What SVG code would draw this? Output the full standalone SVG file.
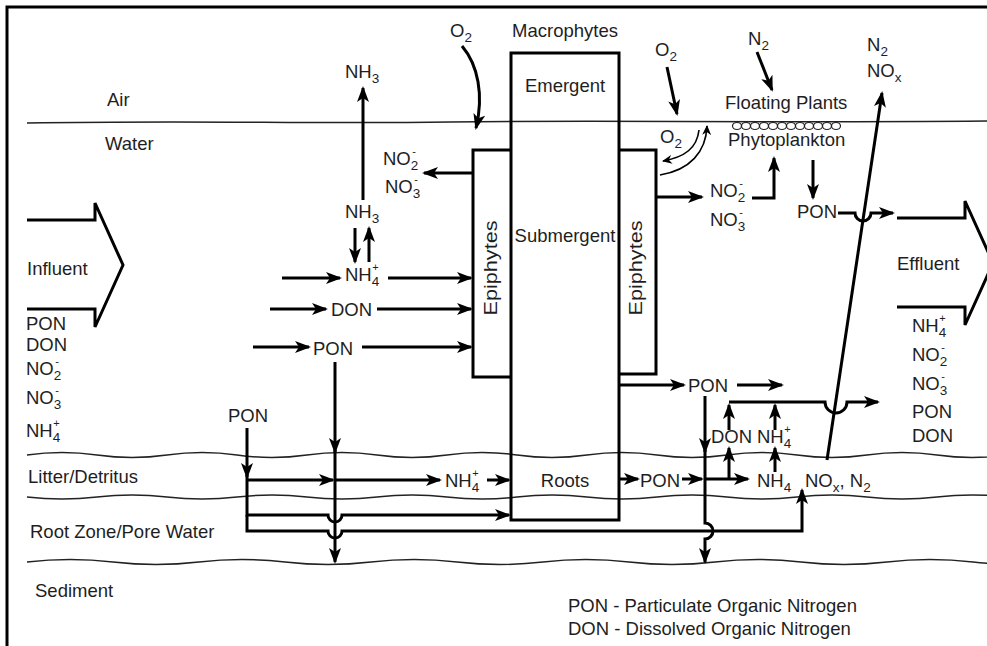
<svg xmlns="http://www.w3.org/2000/svg" width="987" height="646" viewBox="0 0 987 646">
<defs>
<style>
.t{font-family:'Liberation Sans',Arial,sans-serif;font-size:18.5px;fill:#1e1e1e}
.s{font-size:13.5px}
.p{font-size:11px}
.ln{stroke:#000;stroke-width:3;fill:none}
.ar{marker-end:url(#ah)}
.lay{stroke:#222;stroke-width:1.5;fill:none}
.thin{stroke:#000;stroke-width:1.6;fill:none;marker-end:url(#ahs)}
</style>
<marker id="ah" markerUnits="userSpaceOnUse" markerWidth="17" markerHeight="12" refX="14" refY="6" orient="auto"><path d="M0,0 L16,6 L0,12 L4,6 z" fill="#000"/></marker>
<marker id="ahs" markerUnits="userSpaceOnUse" markerWidth="11" markerHeight="9" refX="9" refY="4.5" orient="auto"><path d="M0,0 L10,4.5 L0,9 L3,4.5 z" fill="#000"/></marker>
</defs>
<rect width="987" height="646" fill="#fff"/>
<path d="M7,646 V7 H987" stroke="#000" stroke-width="3" fill="none"/>

<g id="layers">
<path class="lay" d="M27,123 C200,120 300,124 450,122 C600,120 750,123 987,121"/>
<path class="lay" d="M27,455 Q62,450 97,455 T167,455 T237,455 T307,455 T377,455 T447,455 T517,455 T587,455 T657,455 T727,455 T797,455 T867,455 T937,455 T1007,455"/>
<path class="lay" d="M27,497 Q62,501 97,497 T167,497 T237,497 T307,497 T377,497 T447,497 T517,497 T587,497 T657,497 T727,497 T797,497 T867,497 T937,497 T1007,497"/>
<path class="lay" d="M27,562 Q70,557 113,562 T199,562 T285,562 T371,562 T457,562 T543,562 T629,562 T715,562 T801,562 T887,562 T973,562 T1059,562"/>
<text class="t" x="107" y="106">Air</text>
<text class="t" x="105" y="150">Water</text>
<text class="t" x="28" y="483">Litter/Detritus</text>
<text class="t" x="30" y="538">Root Zone/Pore Water</text>
<text class="t" x="35" y="597">Sediment</text>
</g>

<g id="influent">
<path class="ln" d="M27,220 H95 V203 L123,265 L95,327 V309 H27"/>
<text class="t" x="27" y="275">Influent</text>
<text class="t" x="26" y="330">PON</text>
<text class="t" x="26" y="351">DON</text>
<text class="t" x="26" y="375">NO<tspan class="s" dy="5">2</tspan><tspan class="p" dx="-6" dy="-15">-</tspan></text>
<text class="t" x="26" y="404">NO<tspan class="s" dy="5">3</tspan><tspan class="p" dx="-6" dy="-15">-</tspan></text>
<text class="t" x="26" y="437">NH<tspan class="s" dy="5">4</tspan><tspan class="p" dx="-7" dy="-15">+</tspan></text>
</g>

<g id="effluent">
<path class="ln" d="M897,218 H965 V201 L993,263 L965,325 V307 H897"/>
<text class="t" x="897" y="270">Effluent</text>
<text class="t" x="912" y="332">NH<tspan class="s" dy="5">4</tspan><tspan class="p" dx="-7" dy="-15">+</tspan></text>
<text class="t" x="912" y="361">NO<tspan class="s" dy="5">2</tspan><tspan class="p" dx="-6" dy="-15">-</tspan></text>
<text class="t" x="912" y="390">NO<tspan class="s" dy="5">3</tspan><tspan class="p" dx="-6" dy="-15">-</tspan></text>
<text class="t" x="912" y="418">PON</text>
<text class="t" x="912" y="442">DON</text>
</g>

<g id="macrophytes">
<rect class="ln" x="511" y="53" width="108" height="467"/>
<text class="t" x="565" y="37" text-anchor="middle">Macrophytes</text>
<text class="t" x="565" y="92" text-anchor="middle">Emergent</text>
<text class="t" x="565" y="242" text-anchor="middle">Submergent</text>
<text class="t" x="565" y="487" text-anchor="middle">Roots</text>
</g>

<g id="epiphytes-left">
<path class="ln" d="M511,150 H473 V377 H511"/>
<text class="t" transform="translate(497,268) rotate(-90)" text-anchor="middle" textLength="95" lengthAdjust="spacingAndGlyphs">Epiphytes</text>
</g>
<g id="epiphytes-right">
<path class="ln" d="M619,150 H656 V374 H619"/>
<text class="t" transform="translate(642,268) rotate(-90)" text-anchor="middle" textLength="95" lengthAdjust="spacingAndGlyphs">Epiphytes</text>
</g>

<g id="floating">
<text class="t" x="725" y="109">Floating Plants</text>
<g fill="none" stroke="#222" stroke-width="1.2">
<ellipse cx="737" cy="126" rx="4.5" ry="3.5"/><ellipse cx="746" cy="126" rx="4.5" ry="3.5"/><ellipse cx="755" cy="126" rx="4.5" ry="3.5"/><ellipse cx="764" cy="126" rx="4.5" ry="3.5"/><ellipse cx="773" cy="126" rx="4.5" ry="3.5"/><ellipse cx="782" cy="126" rx="4.5" ry="3.5"/><ellipse cx="791" cy="126" rx="4.5" ry="3.5"/><ellipse cx="800" cy="126" rx="4.5" ry="3.5"/><ellipse cx="809" cy="126" rx="4.5" ry="3.5"/><ellipse cx="818" cy="126" rx="4.5" ry="3.5"/><ellipse cx="827" cy="126" rx="4.5" ry="3.5"/><ellipse cx="836" cy="126" rx="4.5" ry="3.5"/>
</g>
<text class="t" x="728" y="146">Phytoplankton</text>
</g>

<g id="labels">
<text class="t" x="450" y="37">O<tspan class="s" dy="5">2</tspan></text>
<text class="t" x="655" y="56">O<tspan class="s" dy="5">2</tspan></text>
<text class="t" x="660" y="143">O<tspan class="s" dy="5">2</tspan></text>
<text class="t" x="748" y="45">N<tspan class="s" dy="5">2</tspan></text>
<text class="t" x="867" y="51">N<tspan class="s" dy="5">2</tspan></text>
<text class="t" x="867" y="77">NO<tspan class="s" dy="5">x</tspan></text>
<text class="t" x="345" y="78">NH<tspan class="s" dy="5">3</tspan></text>
<text class="t" x="345" y="218">NH<tspan class="s" dy="5">3</tspan></text>
<text class="t" x="345" y="281">NH<tspan class="s" dy="5">4</tspan><tspan class="p" dx="-7" dy="-15">+</tspan></text>
<text class="t" x="331" y="316">DON</text>
<text class="t" x="313" y="355">PON</text>
<text class="t" x="383" y="165">NO<tspan class="s" dy="5">2</tspan><tspan class="p" dx="-6" dy="-15">-</tspan></text>
<text class="t" x="385" y="193">NO<tspan class="s" dy="5">3</tspan><tspan class="p" dx="-6" dy="-15">-</tspan></text>
<text class="t" x="710" y="197">NO<tspan class="s" dy="5">2</tspan><tspan class="p" dx="-6" dy="-15">-</tspan></text>
<text class="t" x="710" y="226">NO<tspan class="s" dy="5">3</tspan><tspan class="p" dx="-6" dy="-15">-</tspan></text>
<text class="t" x="797" y="218">PON</text>
<text class="t" x="688" y="392">PON</text>
<text class="t" x="711" y="443">DON</text>
<text class="t" x="757" y="443">NH<tspan class="s" dy="5">4</tspan><tspan class="p" dx="-7" dy="-15">+</tspan></text>
<text class="t" x="228" y="422">PON</text>
<text class="t" x="445" y="487">NH<tspan class="s" dy="5">4</tspan><tspan class="p" dx="-7" dy="-15">+</tspan></text>
<text class="t" x="640" y="487">PON</text>
<text class="t" x="757" y="487">NH<tspan class="s" dy="5">4</tspan></text>
<text class="t" x="805" y="487">NO<tspan class="s" dy="5">x</tspan><tspan dy="-5">, N</tspan><tspan class="s" dy="5">2</tspan></text>
<text class="t" x="568" y="612">PON - Particulate Organic Nitrogen</text>
<text class="t" x="568" y="635">DON - Dissolved Organic Nitrogen</text>
</g>

<g id="connectors">
<path class="ln ar" d="M462,46 C478,65 484,95 476,128"/>
<path class="ln ar" d="M667,67 L677,114"/>
<path class="ln ar" d="M757,52 L772,90"/>
<path class="thin" d="M660,175 C690,170 706,152 707,126"/>
<path class="thin" d="M699,130 C697,148 685,157 663,161"/>
<path class="ln ar" d="M363,200 V88"/>
<path class="ln ar" d="M355,228 V262"/>
<path class="ln ar" d="M369,262 V228"/>
<path class="ln ar" d="M282,278 H340"/>
<path class="ln ar" d="M388,278 H471"/>
<path class="ln ar" d="M270,309 H326"/>
<path class="ln ar" d="M377,309 H471"/>
<path class="ln ar" d="M253,347 H309"/>
<path class="ln ar" d="M362,347 H471"/>
<path class="ln ar" d="M473,173 H424"/>
<path class="ln ar" d="M657,197 H702"/>
<path class="ln ar" d="M752,198 H774 V158"/>
<path class="ln ar" d="M813,160 V198"/>
<path class="ln ar" d="M838,213 H855 a8,8 0 0 0 16,0 H893"/>
<path class="ln ar" d="M619,385 H684"/>
<path class="ln ar" d="M737,385 H782"/>
<path class="ln ar" d="M335,362 V452"/>
<path class="ln ar" d="M335,450 V562"/>
<path class="ln ar" d="M247,428 V477"/>
<path class="ln ar" d="M247,480 H333"/>
<path class="ln ar" d="M336,480 H440"/>
<path class="ln ar" d="M487,480 H509"/>
<path class="ln ar" d="M247,475 V515 H328 a7,7 0 0 0 14,0 H509"/>
<path class="ln ar" d="M247,515 V531 H328 a7,7 0 0 0 14,0 H802 V490"/>
<path class="ln ar" d="M619,479 H638"/>
<path class="ln ar" d="M682,479 H702"/>
<path class="ln ar" d="M705,479 H748"/>
<path class="ln ar" d="M729,479 V448"/>
<path class="ln ar" d="M775,472 V448"/>
<path class="ln ar" d="M705,396 V452"/>
<path class="ln ar" d="M705,450 V523 a8,8 0 0 1 0,16 V562"/>
<path class="ln ar" d="M729,430 V405"/>
<path class="ln ar" d="M775,430 V405"/>
<path class="ln ar" d="M729,402 H825 a11,11 0 0 0 22,0 H878"/>
<path class="ln ar" d="M827,460 L882,93" stroke-width="2.5"/>
</g>
</svg>
